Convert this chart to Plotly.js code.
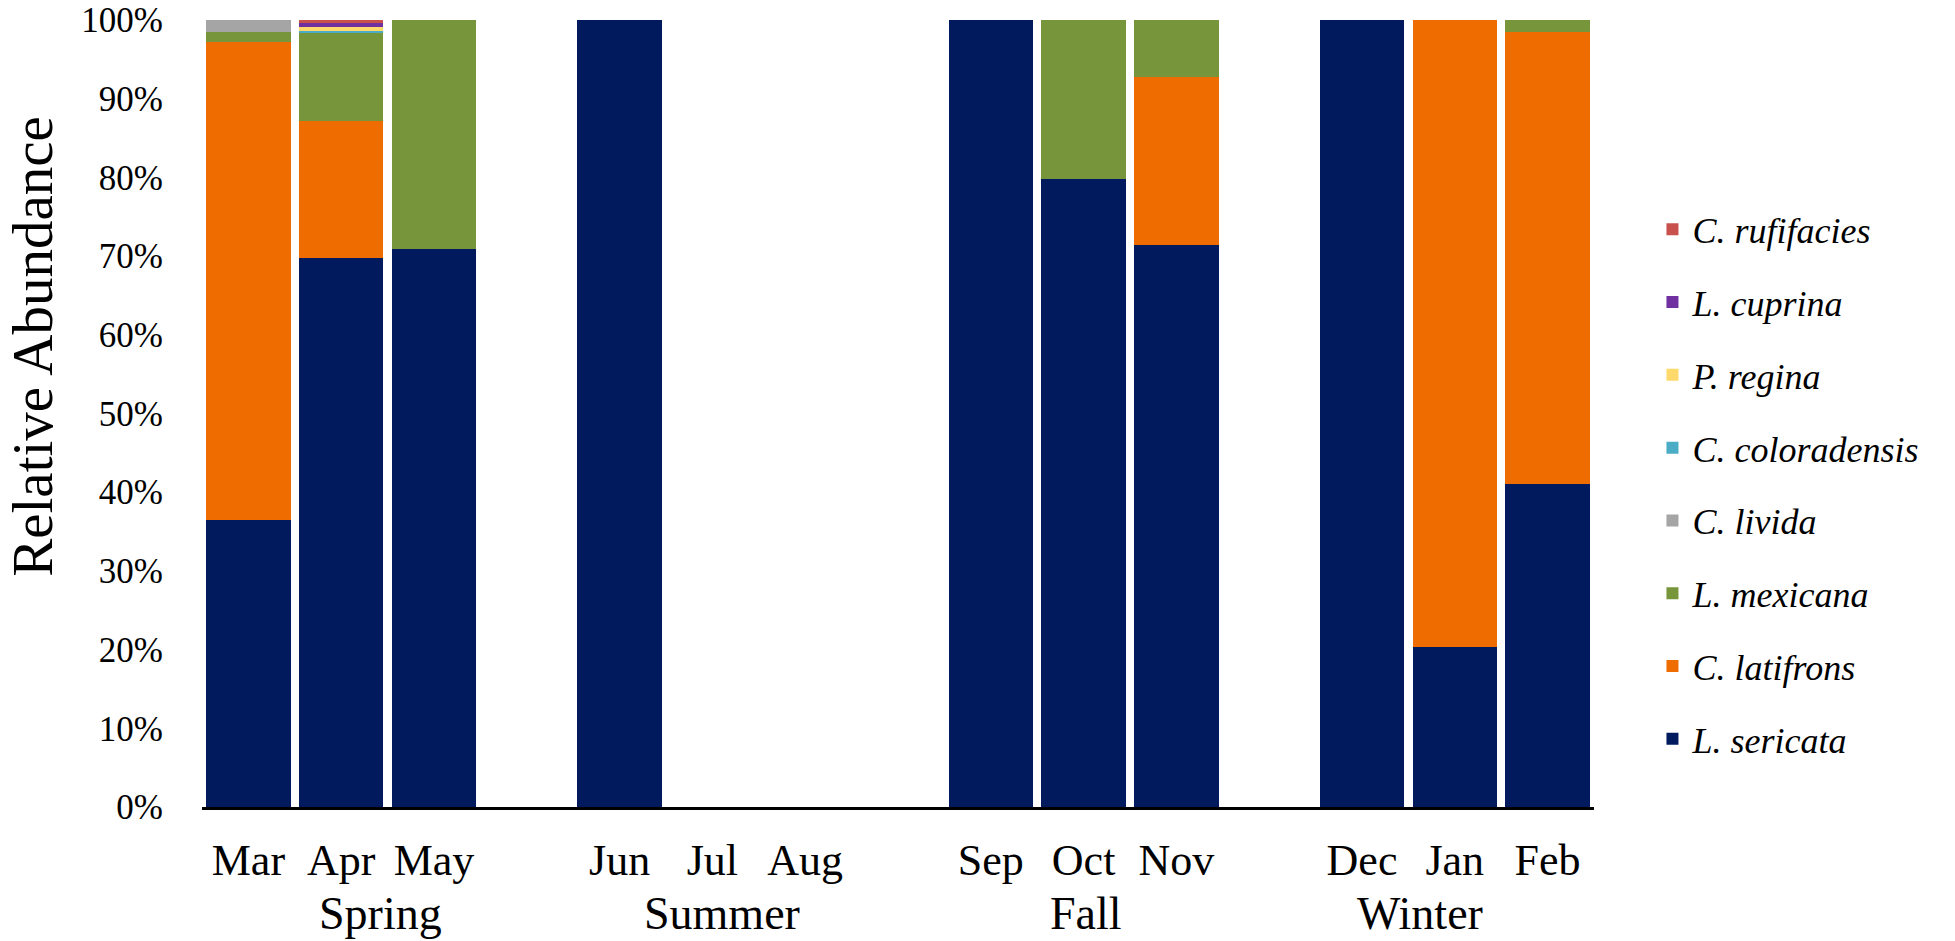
<!DOCTYPE html>
<html>
<head>
<meta charset="utf-8">
<script src="https://cdn.plot.ly/plotly-3.0.1.min.js"></script>
<style>
  html, body { margin: 0; padding: 0; background: #ffffff; }
  #chart { width: 1955px; height: 941px; }
</style>
</head>
<body>
<div id="chart"></div>
<script>
// months in sampling order, with blank slots between seasons
const months = ['Mar', 'Apr', 'May', 'Jun', 'Jul', 'Aug', 'Sep', 'Oct', 'Nov', 'Dec', 'Jan', 'Feb'];
const slots = ['Mar', 'Apr', 'May', ' ', 'Jun', 'Jul', 'Aug', '  ', 'Sep', 'Oct', 'Nov', '   ', 'Dec', 'Jan', 'Feb'];
const seasons = ['Spring', 'Summer', 'Fall', 'Winter'];
// season labels sit under their group, as placed in the original (category index)
const seasonPos = [1.42, 5.1, 9.03, 12.62];
const yTicks = [0, 10, 20, 30, 40, 50, 60, 70, 80, 90, 100];

// relative abundance (%) per month
const sericata     = [36.5, 69.8, 70.9, 100, 0, 0, 100, 79.8, 71.4, 100, 20.3, 41.0];
const latifrons    = [60.7, 17.4, 0,    0,   0, 0, 0,   0,    21.4, 0,   79.7, 57.5];
const mexicana     = [1.3,  11.1, 29.1, 0,   0, 0, 0,   20.2, 7.2,  0,   0,    1.5];
const livida       = [1.5,  0.1,  0,    0,   0, 0, 0,   0,    0,    0,   0,    0];
const coloradensis = [0,    0.2,  0,    0,   0, 0, 0,   0,    0,    0,   0,    0];
const regina       = [0,    0.45, 0,    0,   0, 0, 0,   0,    0,    0,   0,    0];
const cuprina      = [0,    0.6,  0,    0,   0, 0, 0,   0,    0,    0,   0,    0];
const rufifacies   = [0,    0.35, 0,    0,   0, 0, 0,   0,    0,    0,   0,    0];

// stacking order bottom -> top; legend lists them top species first
const series = [
    { name: 'L. sericata', y: sericata, color: '#011a5e' },
    { name: 'C. latifrons', y: latifrons, color: '#ee6c00' },
    { name: 'L. mexicana', y: mexicana, color: '#77953a' },
    { name: 'C. livida', y: livida, color: '#a5a5a5' },
    { name: 'C. coloradensis', y: coloradensis, color: '#4bacc6' },
    { name: 'P. regina', y: regina, color: '#ffd96b' },
    { name: 'L. cuprina', y: cuprina, color: '#7030a0' },
    { name: 'C. rufifacies', y: rufifacies, color: '#c8504d' },
];

const serif = '"Liberation Serif", "Times New Roman", serif';

const traces = series.map((s, i) => ({
    type: 'bar',
    x: months,
    y: s.y,
    name: s.name,
    legendgroup: s.name,
    legendrank: series.length - i,
    marker: { color: s.color, line: { width: 0 } },
    hoverinfo: 'skip',
}));

const annotations = seasons.map((s, i) => ({
    text: s,
    x: seasonPos[i],
    xref: 'x',
    y: -0.135,
    yref: 'paper',
    xanchor: 'center',
    yanchor: 'middle',
    showarrow: false,
    font: { family: serif, size: 46, color: '#000000' },
}));

// y axis title sits a bit above the middle in the original
annotations.push({
    text: 'Relative Abundance',
    textangle: -90,
    x: -0.122,
    xref: 'paper',
    y: 0.585,
    yref: 'paper',
    xanchor: 'center',
    yanchor: 'middle',
    showarrow: false,
    font: { family: serif, size: 57, color: '#000000' },
});

const layout = {
    width: 1955,
    height: 941,
    paper_bgcolor: '#ffffff',
    plot_bgcolor: '#ffffff',
    margin: { t: 20, r: 361, b: 134, l: 202 },
    barmode: 'stack',
    bargap: 0.09,
    showlegend: true,
    font: { family: serif, color: '#000000' },
    xaxis: {
        type: 'category',
        categoryorder: 'array',
        categoryarray: slots,
        range: [-0.5, 14.5],
        showline: true,
        linecolor: '#000000',
        linewidth: 3,
        ticks: '',
        ticklabelstandoff: 12,
        tickfont: { family: serif, size: 44, color: '#000000' },
        showgrid: false,
        zeroline: false,
        fixedrange: true,
    },
    yaxis: {
        range: [0, 100],
        tickmode: 'array',
        tickvals: yTicks,
        ticktext: yTicks.map(v => v + '%'),
        ticklabeloverflow: 'allow',
        showline: false,
        showgrid: false,
        zeroline: false,
        ticks: '',
        ticklabelstandoff: 38,
        tickfont: { family: serif, size: 35, color: '#000000' },
        fixedrange: true,
    },
    legend: {
        x: 1.042,
        xanchor: 'left',
        y: 0.41,
        yanchor: 'middle',
        traceorder: 'grouped',
        tracegroupgap: 23,
        font: { family: serif, size: 36, style: 'italic', color: '#000000' },
        bgcolor: 'rgba(0,0,0,0)',
    },
    annotations: annotations,
};

Plotly.newPlot('chart', traces, layout, { displayModeBar: false, staticPlot: true });
</script>
</body>
</html>
